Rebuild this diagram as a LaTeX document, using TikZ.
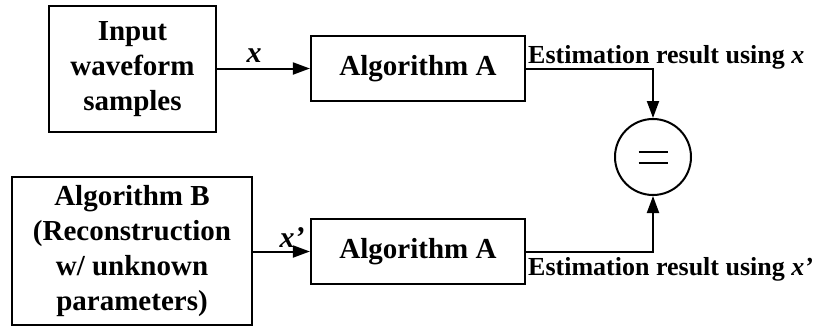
\documentclass[tikz,border=0pt]{standalone}
\usepackage{fontspec}
\setmainfont{Liberation Serif}
\usetikzlibrary{arrows.meta}
\begin{document}
\begin{tikzpicture}[x=1pt,y=-1pt,
  box/.style={draw,line width=2.2pt,align=center,inner sep=0pt,
    font=\fontsize{29}{35}\selectfont\bfseries},
  conn/.style={line width=2pt,-{Triangle[length=17pt,width=12pt]}},
  lbl/.style={font=\fontsize{26}{30}\selectfont\bfseries,inner sep=0pt},
  var/.style={font=\fontsize{30}{34}\selectfont\bfseries\itshape,inner sep=0pt}]
\useasboundingbox (0,0) rectangle (815,327);
\node[box,minimum width=167pt,minimum height=126pt] (in) at (132.5,69) {Input\\waveform\\samples};
\node[box,minimum width=214pt,minimum height=65pt] (a1) at (418,68.5) {Algorithm A};
\node[box,minimum width=240pt,minimum height=148pt] (b) at (132,251) {Algorithm B\\(Reconstruction\\w/ unknown\\parameters)};
\node[box,minimum width=214pt,minimum height=65pt] (a2) at (418,251.5) {Algorithm A};
\node[draw,circle,line width=2pt,minimum size=76pt,inner sep=0pt] (eq) at (653,157) {};
\draw[line width=2pt] ([xshift=-14.5pt,yshift=5.5pt]eq.center) -- ([xshift=14.5pt,yshift=5.5pt]eq.center)
  ([xshift=-14.5pt,yshift=-5.5pt]eq.center) -- ([xshift=14.5pt,yshift=-5.5pt]eq.center);
\draw[conn] (in.east |- a1.west) -- (a1.west);
\draw[conn] (b.east |- a2.west) -- (a2.west);
\draw[conn] (a1.east) -| (eq.north);
\draw[conn] (a2.east) -| (eq.south);
\node[var,anchor=base] (lx) at (254,62) {x};
\node[var,anchor=base] (lx2) at (292,247) {x’};
\node[lbl,anchor=base west] (e1) at (528,63) {Estimation result using \textit{x}};
\node[lbl,anchor=base west] (e2) at (528,275) {Estimation result using \textit{x’}};
\end{tikzpicture}
\end{document}
